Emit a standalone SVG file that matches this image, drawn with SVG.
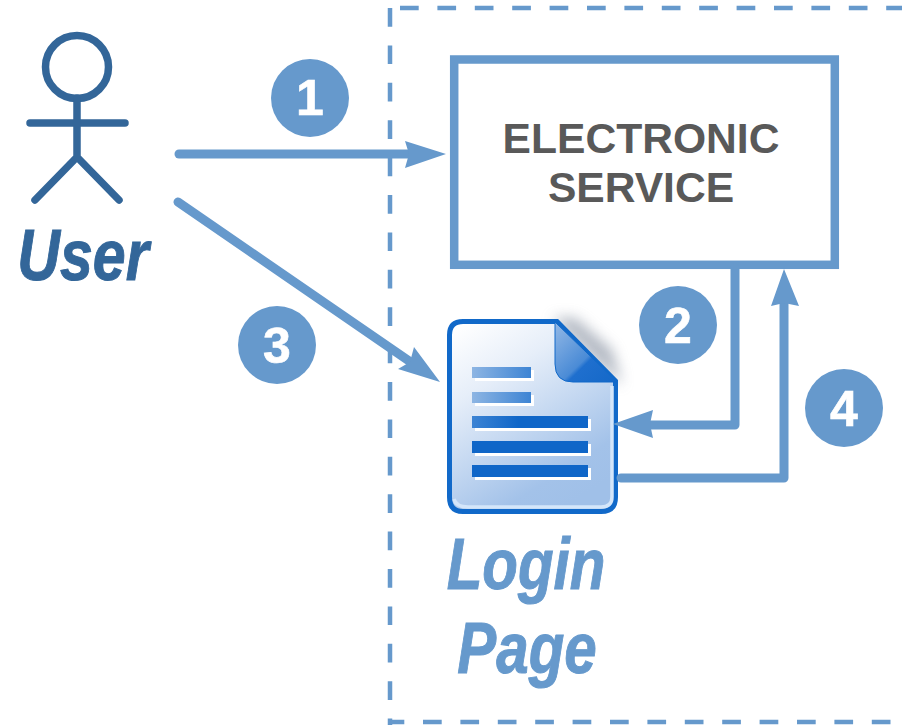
<svg xmlns="http://www.w3.org/2000/svg" width="902" height="727" viewBox="0 0 902 727">
<style>
.c{fill:none;stroke:#6699cc;stroke-width:9;stroke-linecap:round;stroke-linejoin:round}
.h{fill:#6699cc}
.b{fill:#6699cc}
.d{fill:none;stroke:#6699cc;stroke-width:4.5;stroke-dasharray:18.7 18.7}
.n{font:bold 50px "Liberation Sans",Arial,sans-serif;fill:#fff;text-anchor:middle;stroke:#fff;stroke-width:.6}
.u{fill:none;stroke:#336699;stroke-width:7.5;stroke-linecap:round;stroke-linejoin:round}
.t{font:italic bold 72px "Liberation Sans",Arial,sans-serif;text-anchor:middle;stroke-width:1}
.e{font:bold 42.6px "Liberation Sans",Arial,sans-serif;fill:#595959;text-anchor:middle}
</style>
<defs>
<linearGradient id="pg" x1="0.1" y1="0" x2="0.65" y2="1"><stop offset="0" stop-color="#ffffff"/><stop offset="0.3" stop-color="#e6eef9"/><stop offset="0.85" stop-color="#a3c2e9"/><stop offset="1" stop-color="#a0c0e8"/></linearGradient>
<linearGradient id="fg" x1="0" y1="0" x2="1" y2="1"><stop offset="0" stop-color="#94b9e6"/><stop offset="0.55" stop-color="#4a8bd6"/><stop offset="0.6" stop-color="#1f6fce"/><stop offset="1" stop-color="#1468c8"/></linearGradient>
<linearGradient id="lg" x1="0" y1="0" x2="1" y2="0"><stop offset="0" stop-color="#8db5e3"/><stop offset="1" stop-color="#3d84d4"/></linearGradient>
<linearGradient id="lg2" x1="0" y1="0" x2="1" y2="0"><stop offset="0" stop-color="#3d84d4"/><stop offset="0.4" stop-color="#0f66c8"/><stop offset="1" stop-color="#0f66c8"/></linearGradient>
<filter id="sh" x="-50%" y="-50%" width="200%" height="200%"><feGaussianBlur stdDeviation="7"/></filter>
</defs>
<g id="boundary">
<path class="d" d="M390 8V725"/>
<path class="d" d="M400 8H902"/>
<path class="d" d="M388 722H902" stroke-dashoffset="2.400"/>
</g>
<g id="actor-user">
<circle class="u" cx="77" cy="67" r="31.5"/>
<path class="u" d="M77 98V157M30 123H125M77 157L35 200M77 157L119 200"/>
<text class="t" transform="translate(83 280) scale(.82 1)" fill="#336699" stroke="#336699">User</text>
</g>
<g id="service">
<rect x="454.2" y="59.5" width="380.6" height="205.3" fill="#fff" stroke="#6699cc" stroke-width="8.5"/>
<text class="e" x="641" y="153">ELECTRONIC</text>
<text class="e" x="641" y="202">SERVICE</text>
</g>
<g id="login-page">
<path d="M552 318L622 386L612 350L575 318Z" fill="#7d8799" opacity="0.6" filter="url(#sh)"/>
<path d="M463 321.500H557L615.500 381V497Q615.500 511.500 601 511.500H463Q449.500 511.500 449.500 497V335Q449.500 321.500 463 321.500Z" fill="url(#pg)" stroke="#1169c9" stroke-width="5"/>
<path d="M612 386V497Q612 507 601 507H468Q456 507 454 499" fill="none" stroke="#d4e6fa" stroke-width="3.500"/>
<path d="M555 322L617 382H573Q555 382 555 364Z" fill="url(#fg)" stroke="#1169c9" stroke-width="1"/>
<path d="M475 370H534V381H475ZM475 395H534V406H475ZM475 419H591V431H475ZM475 444H591V456H475ZM475 468H591V480H475Z" fill="#fff"/>
<rect x="472" y="367" width="59" height="11" fill="url(#lg)"/>
<rect x="472" y="392" width="59" height="11" fill="url(#lg)"/>
<rect x="472" y="416" width="116" height="12" fill="url(#lg2)"/>
<rect x="472" y="441" width="116" height="12" fill="#0f66c8"/>
<rect x="472" y="465" width="116" height="12" fill="#0f66c8"/>
<text class="t" transform="translate(526 589) scale(.81 1)" fill="#6699cc" stroke="#6699cc">Login</text>
<text class="t" transform="translate(527 672.500) scale(.81 1)" fill="#6699cc" stroke="#6699cc">Page</text>
</g>
<g id="connectors">
<path class="c" d="M179 154H415"/><path class="h" d="M446 154L405 141L409 154L405 168Z"/>
<path class="c" d="M178 202L412 363"/><path class="h" d="M440 382L414 347L410 362L398 369Z"/>
<path class="c" d="M735 268V425H645"/><path class="h" d="M613 424L653 410L650 424L653 438Z"/>
<path class="c" d="M621 478H784V298"/><path class="h" d="M784 269L771 306L784 303L799 306Z"/>
</g>
<g id="badge-1"><circle class="b" cx="310" cy="98" r="39"/><text class="n" x="310" y="115">1</text></g>
<g id="badge-2"><circle class="b" cx="678" cy="325" r="39"/><text class="n" x="678" y="343">2</text></g>
<g id="badge-3"><circle class="b" cx="277" cy="345" r="39"/><text class="n" x="277" y="363">3</text></g>
<g id="badge-4"><circle class="b" cx="844" cy="408" r="39"/><text class="n" x="844" y="426">4</text></g>
</svg>
